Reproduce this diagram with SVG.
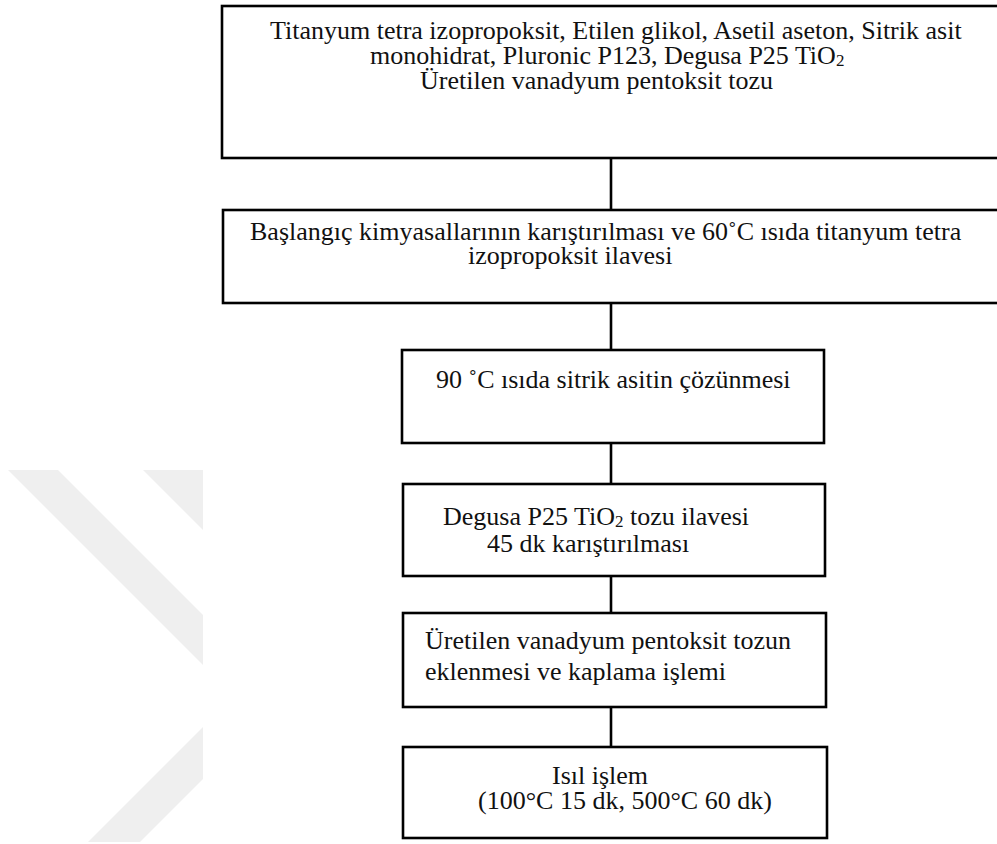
<svg xmlns="http://www.w3.org/2000/svg" width="997" height="844" viewBox="0 0 997 844">
  <style>
    .box { fill: #ffffff; stroke: #000000; stroke-width: 2.6; }
    .link { stroke: #000000; stroke-width: 2.6; fill: none; }
    .lbl { font-family: "Liberation Serif", "Times New Roman", serif; font-size: 26px; fill: #111111; }
    .sub { font-size: 17px; }
    .mark { fill: #efefef; }
  </style>

  <rect x="0" y="0" width="997" height="844" fill="#ffffff"/>

  <!-- faint diagonal background stripes -->
  <g id="watermark">
    <polygon class="mark" points="8,470 58,470 203,615 203,665"/>
    <polygon class="mark" points="143,470 203,470 203,530"/>
    <polygon class="mark" points="88,842 140,842 203,779 203,727"/>
  </g>

  <!-- vertical links between the process steps -->
  <g id="connectors">
    <line class="link" x1="611" y1="158" x2="611" y2="210"/>
    <line class="link" x1="611" y1="303" x2="611" y2="350"/>
    <line class="link" x1="611" y1="443" x2="611" y2="484"/>
    <line class="link" x1="611" y1="576" x2="611" y2="613"/>
    <line class="link" x1="611" y1="707" x2="611" y2="747"/>
  </g>

  <g id="step1">
    <rect class="box" x="222" y="6" width="800" height="152"/>
    <text class="lbl" x="270" y="39">Titanyum tetra izopropoksit, Etilen glikol, Asetil aseton, Sitrik asit</text>
    <text class="lbl" x="370" y="64">monohidrat, Pluronic P123, Degusa P25 TiO<tspan class="sub" dy="2">2</tspan></text>
    <text class="lbl" x="420" y="89">Üretilen vanadyum pentoksit tozu</text>
  </g>

  <g id="step2">
    <rect class="box" x="223" y="210" width="800" height="93"/>
    <text class="lbl" x="250" y="240">Başlangıç kimyasallarının karıştırılması ve 60˚C ısıda titanyum tetra</text>
    <text class="lbl" x="468" y="264">izopropoksit ilavesi</text>
  </g>

  <g id="step3">
    <rect class="box" x="402" y="350" width="422" height="93"/>
    <text class="lbl" x="436" y="388">90 ˚C ısıda sitrik asitin çözünmesi</text>
  </g>

  <g id="step4">
    <rect class="box" x="403" y="484" width="422" height="92"/>
    <text class="lbl" x="443" y="525">Degusa P25 TiO<tspan class="sub" dy="2">2</tspan><tspan dy="-2"> tozu ilavesi</tspan></text>
    <text class="lbl" x="487" y="552">45 dk karıştırılması</text>
  </g>

  <g id="step5">
    <rect class="box" x="403" y="613" width="423" height="94"/>
    <text class="lbl" x="425" y="649">Üretilen vanadyum pentoksit tozun</text>
    <text class="lbl" x="425" y="680">eklenmesi ve kaplama işlemi</text>
  </g>

  <g id="step6">
    <rect class="box" x="403" y="747" width="424" height="91"/>
    <text class="lbl" x="552" y="784">Isıl işlem</text>
    <text class="lbl" x="478" y="809">(100°C 15 dk, 500°C 60 dk)</text>
  </g>
</svg>
